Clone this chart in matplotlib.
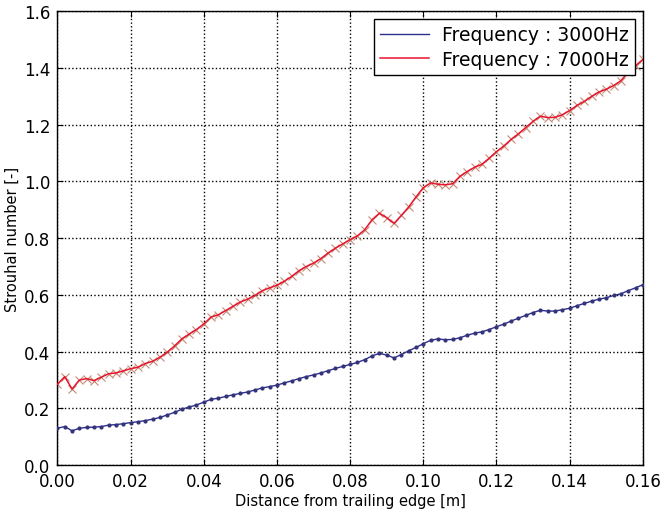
import numpy as np
import matplotlib
matplotlib.use("Agg")
import matplotlib.pyplot as plt

# sampling positions along the wake, 2 mm apart
distance = np.round(np.arange(81) * 0.002, 3)

st_3000 = [0.130, 0.136, 0.121, 0.130, 0.133, 0.134, 0.136, 0.141, 0.143, 0.146,
           0.150, 0.153, 0.157, 0.162, 0.168, 0.177, 0.186, 0.197, 0.205, 0.212,
           0.222, 0.232, 0.236, 0.242, 0.248, 0.253, 0.258, 0.265, 0.272, 0.277,
           0.282, 0.290, 0.297, 0.305, 0.312, 0.318, 0.325, 0.333, 0.341, 0.348,
           0.355, 0.362, 0.372, 0.385, 0.394, 0.388, 0.378, 0.390, 0.403, 0.415,
           0.428, 0.440, 0.445, 0.442, 0.443, 0.449, 0.458, 0.465, 0.470, 0.478,
           0.488, 0.497, 0.508, 0.518, 0.528, 0.538, 0.546, 0.543, 0.543, 0.548,
           0.553, 0.562, 0.570, 0.578, 0.585, 0.590, 0.598, 0.604, 0.615, 0.625,
           0.636]

st_7000 = [0.285, 0.312, 0.268, 0.300, 0.305, 0.298, 0.310, 0.322, 0.325, 0.332,
           0.340, 0.345, 0.358, 0.366, 0.380, 0.398, 0.420, 0.445, 0.462, 0.478,
           0.498, 0.522, 0.530, 0.545, 0.560, 0.575, 0.585, 0.598, 0.615, 0.625,
           0.634, 0.648, 0.665, 0.685, 0.700, 0.712, 0.728, 0.748, 0.765, 0.780,
           0.795, 0.808, 0.830, 0.865, 0.888, 0.872, 0.852, 0.880, 0.910, 0.945,
           0.978, 0.995, 0.990, 0.988, 0.992, 1.018, 1.035, 1.050, 1.060, 1.082,
           1.105, 1.125, 1.148, 1.168, 1.190, 1.212, 1.230, 1.225, 1.226, 1.235,
           1.250, 1.268, 1.282, 1.300, 1.315, 1.325, 1.338, 1.355, 1.385, 1.408,
           1.430]

labels = ["Frequency : 3000Hz", "Frequency : 7000Hz"]
xticks = [0.00, 0.02, 0.04, 0.06, 0.08, 0.10, 0.12, 0.14, 0.16]
yticks = [0.0, 0.2, 0.4, 0.6, 0.8, 1.0, 1.2, 1.4, 1.6]

fig = plt.figure(figsize=(6.6, 5.1), dpi=100)
ax = fig.add_axes([0.087, 0.086, 0.887, 0.89])

blue = "#2e2e8f"
red = "#e8142e"
ax.plot(distance, st_3000, color=blue, lw=1.0, label=labels[0], zorder=3)
ax.plot(distance, st_3000, ls="none", marker=".", ms=4, color="#33337a", zorder=4)
ax.plot(distance, st_7000, color=red, lw=1.1, label=labels[1], zorder=3)
ax.plot(distance, st_7000, ls="none", marker="x", ms=6, mew=0.8, color="#c48a76", zorder=2)

ax.set_xlim(0, 0.16)
ax.set_ylim(0, 1.6)
ax.set_xticks(xticks)
ax.set_yticks(yticks)
ax.set_xticklabels([f"{t:.2f}" for t in xticks])
ax.set_yticklabels([f"{t:.1f}" for t in yticks])
ax.tick_params(direction="in", top=True, right=True, labelsize=12, length=4, pad=5)
ax.grid(True, color="black", ls=":", lw=1.0)
for s in ax.spines.values():
    s.set_linewidth(1.0)

ax.set_xlabel("Distance from trailing edge [m]", fontsize=10.5, labelpad=2)
ax.set_ylabel("Strouhal number [-]", fontsize=10.5, labelpad=3)

leg = ax.legend(loc="upper right", fontsize=13.5, fancybox=False, framealpha=1,
                edgecolor="black", handlelength=2.6, handletextpad=0.7,
                borderaxespad=0.4, borderpad=0.35, labelspacing=0.3)
leg.get_frame().set_linewidth(1.0)

fig.savefig("out.png")
